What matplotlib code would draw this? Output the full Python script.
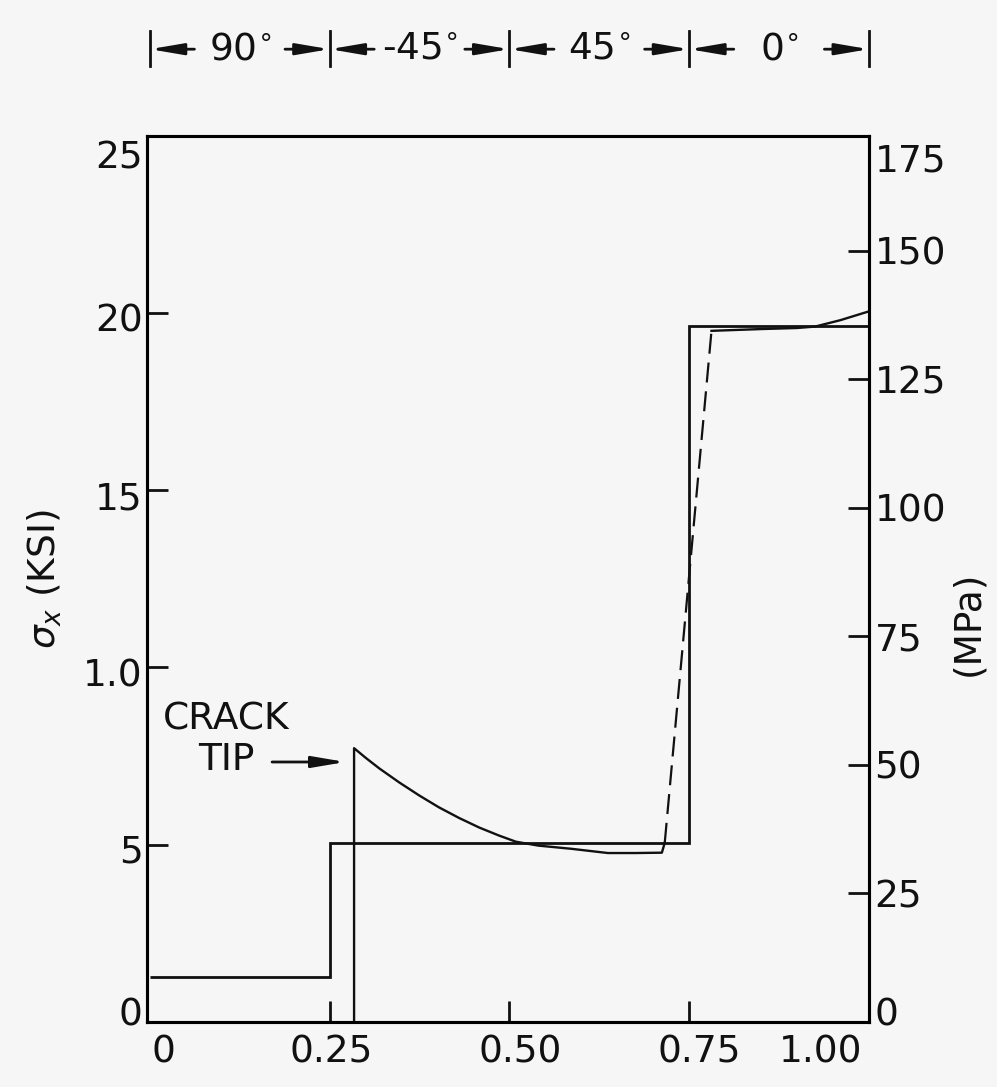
import matplotlib
matplotlib.use('Agg')
import matplotlib.pyplot as plt
from matplotlib.transforms import ScaledTranslation

# values (x = fraction of laminate width, y = ksi)
ply_edges = [0.0, 0.25, 0.75, 1.0]
ply_stress = [1.25, 5.05, 19.65]
ply_names = ['90', '-45', '45', '0']
ply_bounds = [0.0, 0.25, 0.5, 0.75, 1.0]

tip_x = [0.284, 0.284, 0.300, 0.319, 0.347, 0.375, 0.402, 0.430, 0.458,
         0.486, 0.509, 0.540, 0.586, 0.637, 0.675, 0.712, 0.716]
tip_y = [0.0, 7.72, 7.45, 7.15, 6.75, 6.38, 6.05, 5.75, 5.48,
         5.25, 5.08, 4.97, 4.88, 4.76, 4.76, 4.77, 5.05]

dash_x = [0.716, 0.781]
dash_y = [5.05, 19.50]

top_x = [0.781, 0.85, 0.90, 0.925, 0.96, 1.0]
top_y = [19.50, 19.55, 19.58, 19.62, 19.80, 20.05]

ksi_ticks = [0, 5, 10, 15, 20, 25]
ksi_labels = ['0', '5', '1.0', '15', '20', '25']
x_ticks = [0, 0.25, 0.5, 0.75, 1.0]
x_labels = ['0', '0.25', '0.50', '0.75', '1.00']
mpa_ticks = [0, 25, 50, 75, 100, 125, 150, 25 * 6.895]
mpa_labels = ['0', '25', '50', '75', '100', '125', '150', '175']

bg = '#f6f6f6'
ink = '#111111'
fs = 27

plt.rcParams['font.family'] = 'DejaVu Sans'
fig = plt.figure(figsize=(9.97, 10.87), dpi=100, facecolor=bg)
ax = fig.add_axes([0.1474, 0.0601, 0.7242, 0.8148], facecolor=bg)

# laminate theory steps
ax.stairs(ply_stress, ply_edges, baseline=None, color=ink, lw=2.0)
# crack-tip distribution
ax.plot(tip_x, tip_y, color=ink, lw=1.7, solid_joinstyle='round')
ax.plot(dash_x, dash_y, color=ink, lw=1.6, linestyle=(0, (9, 4)))
ax.plot(top_x, top_y, color=ink, lw=1.7)

ax.set_xlim(-0.004, 1.0)
ax.set_ylim(0, 25)
for s in ax.spines.values():
    s.set_linewidth(2.2)
    s.set_color(ink)

ax.set_xticks(x_ticks)
ax.set_xticklabels(x_labels)
ax.set_yticks(ksi_ticks)
ax.set_yticklabels(ksi_labels)
ax.tick_params(axis='both', direction='in', length=15, width=2, colors=ink,
               labelsize=fs)
ax.tick_params(axis='x', pad=9)
ax.tick_params(axis='y', pad=3)
xt = ax.xaxis.get_major_ticks()
xt[0].tick1line.set_visible(False)
xt[-1].tick1line.set_visible(False)
ax.set_ylabel(r'$\sigma_x$ (KSI)', fontsize=fs, color=ink)
ax.yaxis.label.set_verticalalignment('center')
ax.yaxis.set_label_coords(-0.141, 0.50)

ax2 = ax.twinx()
ax2.set_ylim(0, 25 * 6.895)
ax2.set_yticks(mpa_ticks)
ax2.set_yticklabels(mpa_labels)
ax2.tick_params(axis='y', direction='in', length=15, width=2, colors=ink,
                labelsize=fs, pad=4)
for s in ax2.spines.values():
    s.set_linewidth(2.2)
ax2.set_ylabel('(MPa)', fontsize=fs, color=ink, rotation=90)
ax2.yaxis.label.set_verticalalignment('center')
ax2.yaxis.set_label_coords(1.137, 0.45)


def nudge(labels, shifts, vertical=False):
    for lab, d in zip(labels, shifts):
        dx, dy = (0, d) if vertical else (d, 0)
        lab.set_transform(lab.get_transform() +
                          ScaledTranslation(dx / 100, dy / 100, fig.dpi_scale_trans))


nudge(ax.get_xticklabels(), [14, 2, 11, 10, -48])
nudge(ax.get_yticklabels(), [10, -4, -5, -5, -4, -19], vertical=True)
nudge(ax2.get_yticklabels(), [10, 0, 0, 0, 0, 0, 0, -22], vertical=True)

arr = dict(arrowstyle='-|>,head_length=1.0,head_width=0.17', mutation_scale=20,
           color=ink, lw=2, shrinkA=0, shrinkB=0)

# crack tip note
ax.text(0.106, 7.95, 'CRACK\nTIP', ha='center', va='center', fontsize=fs,
        color=ink, linespacing=1.15)
ax.annotate('', xy=(0.272, 7.33), xytext=(0.170, 7.33), arrowprops=arr)

# ply orientation header above the plot
trans = ax.get_xaxis_transform()
hy = 1.098
for b in ply_bounds:
    ax.plot([b, b], [1.079, 1.118], color=ink, lw=2, transform=trans, clip_on=False)
for i, name in enumerate(ply_names):
    lo, hi = ply_bounds[i], ply_bounds[i + 1]
    ax.text((lo + hi) / 2, hy, name + r'$^{\circ}$', transform=trans, ha='center',
            va='center', fontsize=fs, color=ink)
    ax.annotate('', xy=(lo, hy), xytext=(lo + 0.062, hy), xycoords=trans,
                textcoords=trans, arrowprops=arr, annotation_clip=False)
    ax.annotate('', xy=(hi, hy), xytext=(hi - 0.062, hy), xycoords=trans,
                textcoords=trans, arrowprops=arr, annotation_clip=False)

fig.savefig('out.png', dpi=100, facecolor=bg)
